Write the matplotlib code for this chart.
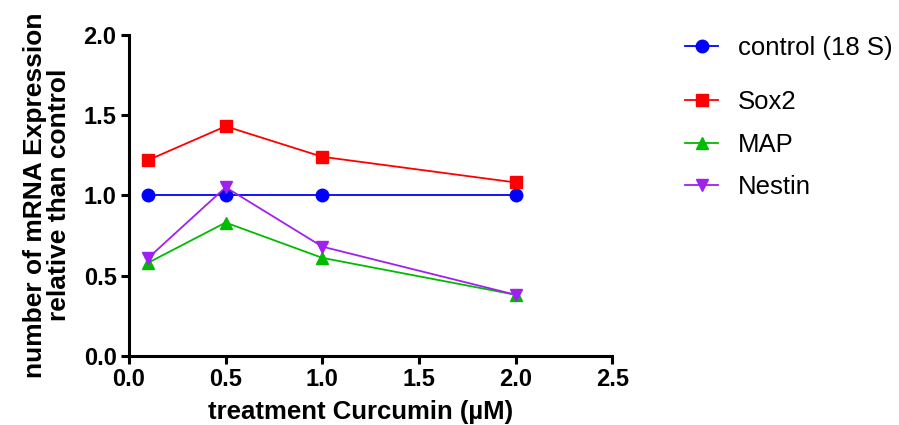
import matplotlib
matplotlib.use("Agg")
import matplotlib.pyplot as plt

plt.rcParams['font.family'] = ['Liberation Sans', 'DejaVu Sans']

doses = [0.1, 0.5, 1.0, 2.0]
control = [1.0, 1.0, 1.0, 1.0]
sox2 = [1.22, 1.43, 1.24, 1.08]
map_vals = [0.58, 0.83, 0.61, 0.38]
nestin = [0.61, 1.05, 0.68, 0.38]

series = [
    ("control (18 S)", control, "#0000ff", "o"),
    ("Sox2", sox2, "#ff0000", "s"),
    ("MAP", map_vals, "#00bb00", "^"),
    ("Nestin", nestin, "#a020f0", "v"),
]

fig = plt.figure(figsize=(8.99, 4.25), dpi=100)
ax = fig.add_axes([0.1435, 0.163, 0.5375, 0.755])

handles = []
for label, vals, color, marker in series:
    h, = ax.plot(doses, vals, color=color, marker=marker, markersize=9,
                 linewidth=1.3, label=label, clip_on=False)
    handles.append(h)

ax.set_xlim(0, 2.5)
ax.set_ylim(0, 2.0)
ax.set_xticks([0.0, 0.5, 1.0, 1.5, 2.0, 2.5])
ax.set_yticks([0.0, 0.5, 1.0, 1.5, 2.0])
ax.xaxis.set_major_formatter(matplotlib.ticker.FormatStrFormatter('%.1f'))
ax.yaxis.set_major_formatter(matplotlib.ticker.FormatStrFormatter('%.1f'))

for s in ['top', 'right']:
    ax.spines[s].set_visible(False)
for s in ['left', 'bottom']:
    ax.spines[s].set_linewidth(2.2)
ax.tick_params(width=2.2, length=6, labelsize=17, pad=3)
for t in ax.get_xticklabels() + ax.get_yticklabels():
    t.set_fontweight('bold')

ax.set_xlabel("treatment Curcumin (µM)", fontsize=18.5, fontweight='bold')
ax.xaxis.set_label_coords(0.48, -0.137)
ax.set_ylabel("number of mRNA Expression\nrelative than control", fontsize=19,
              fontweight='bold', labelpad=9, linespacing=1.0)

leg1 = fig.legend(handles=handles[:1], loc='center left',
                  bbox_to_anchor=(685 / 899, 1 - 48 / 425), frameon=False,
                  fontsize=18.5, handlelength=1.3, handletextpad=0.75,
                  borderaxespad=0, borderpad=0)
leg2 = fig.legend(handles=handles[1:], loc='upper left',
                  bbox_to_anchor=(685 / 899, 1 - 90 / 425), frameon=False,
                  fontsize=18.5, handlelength=1.3, handletextpad=0.75,
                  labelspacing=0.72, borderaxespad=0, borderpad=0)

fig.savefig("out.png", dpi=100)
